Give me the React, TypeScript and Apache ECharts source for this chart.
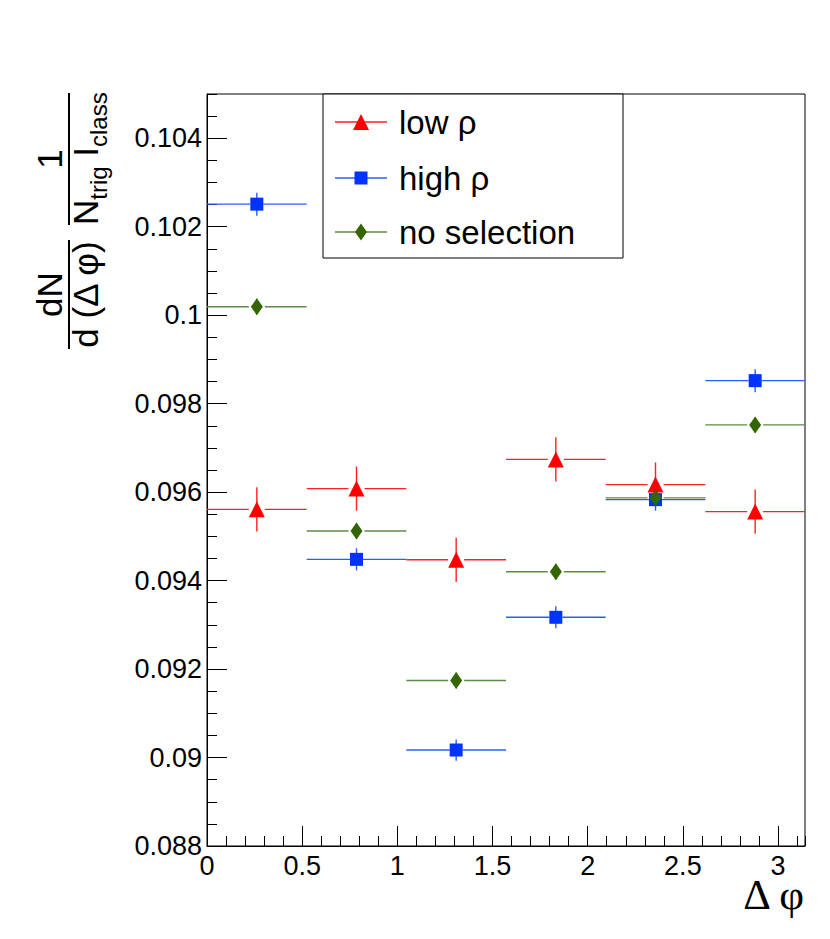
import React, { useEffect, useRef } from "react";
import * as echarts from "echarts";

// ---- data ----
const binCenters = [0.2618, 0.7854, 1.309, 1.8326, 2.3562, 2.8798];
const binHalfWidths = [0.2618, 0.2618, 0.2618, 0.2618, 0.2618, 0.2618];

const lowRho = [0.09561, 0.09608, 0.09447, 0.09674, 0.09617, 0.09556];
const lowRhoErr = [0.0005, 0.0005, 0.0005, 0.0005, 0.0005, 0.0005];

const highRho = [0.10251, 0.09448, 0.09017, 0.09317, 0.09583, 0.09852];
const highRhoErr = [0.00026, 0.00025, 0.00024, 0.00025, 0.00025, 0.00026];

const noSel = [0.10019, 0.09512, 0.09174, 0.0942, 0.09587, 0.09752];
const noSelErr = [0.00018, 0.00018, 0.00018, 0.00018, 0.00018, 0.00018];

const seriesNames = ["low ρ", "high ρ", "no selection"];

// axis ranges / tick steps
const xRange = [0, Math.PI];
const xMajorStep = 0.5;
const xMinorStep = 0.1;
const yRange = [0.088, 0.105];
const yMajorStep = 0.002;
const yMinorStep = 0.0005;

const FONT = "Liberation Sans";
const RED = "#ff0000";
const BLUE = "#0033ff";
const GREEN = "#336600";
const RED_LINE = "#ff2020";
const BLUE_LINE = "#2a5cff";
const GREEN_LINE = "#5e8c44";

const fmt = (v: number) => String(parseFloat(Number(v).toFixed(4)));

function errorSeries(name: string, ys: number[], errs: number[], color: string, gap: number) {
  return {
    type: "custom",
    name,
    xAxisIndex: 0,
    yAxisIndex: 0,
    data: binCenters.map((x, i) => [x, ys[i], binHalfWidths[i], errs[i]]),
    encode: { x: 0, y: 1 },
    renderItem: (params: any, api: any) => {
      const x = api.value(0);
      const y = api.value(1);
      const xe = api.value(2);
      const ye = api.value(3);
      const c = api.coord([x, y]);
      const l = api.coord([x - xe, y]);
      const r = api.coord([x + xe, y]);
      const t = api.coord([x, y + ye]);
      const b = api.coord([x, y - ye]);
      const style = { stroke: color, lineWidth: 1.4 };
      return {
        type: "group",
        children: [
          { type: "line", shape: { x1: l[0], y1: c[1], x2: c[0] - gap, y2: c[1] }, style },
          { type: "line", shape: { x1: c[0] + gap, y1: c[1], x2: r[0], y2: c[1] }, style },
          { type: "line", shape: { x1: c[0], y1: t[1], x2: c[0], y2: b[1] }, style },
        ],
      };
    },
  };
}

function markerSeries(name: string, ys: number[], symbol: string, size: number[], color: string) {
  return {
    type: "scatter",
    name,
    xAxisIndex: 0,
    yAxisIndex: 0,
    data: binCenters.map((x, i) => [x, ys[i]]),
    symbol,
    symbolSize: size,
    itemStyle: { color, opacity: 1 },
    emphasis: { disabled: true },
  };
}

const txt = (text: string, x: number, y: number, size: number, align: string) => ({
  type: "text",
  x,
  y,
  style: {
    text,
    fill: "#000",
    fontSize: size,
    fontFamily: FONT,
    align,
    textAlign: align,
    verticalAlign: "middle",
    textVerticalAlign: "middle",
  },
});

export default function App() {
  const ref = useRef<HTMLDivElement>(null);

  useEffect(() => {
    if (!ref.current) return;
    const chart = echarts.init(ref.current, null, { renderer: "svg" });

    const majorTick = { show: true, inside: true, length: 20, lineStyle: { color: "#000", width: 1 } };
    const minorTick = { show: true, inside: true, length: 10, lineStyle: { color: "#000", width: 1 } };
    const labelStyle = { color: "#000", fontSize: 27, fontFamily: FONT };

    const legendRows = [122, 178, 232];
    const legendLineX = [335, 387];
    const mx = 361;

    const option: any = {
      animation: false,
      backgroundColor: "#fff",
      grid: {
        left: 207,
        right: 25,
        top: 94,
        bottom: 93,
        show: true,
        borderColor: "#000",
        borderWidth: 1,
        backgroundColor: "transparent",
        containLabel: false,
        outerBoundsMode: "none",
      },
      xAxis: [
        {
          type: "value",
          min: xRange[0],
          max: xRange[1],
          interval: xMajorStep,
          position: "bottom",
          axisLine: { show: true, lineStyle: { color: "#000", width: 1 } },
          axisTick: majorTick,
          axisLabel: { ...labelStyle, margin: 6, showMaxLabel: false, showMinLabel: true, formatter: fmt, hideOverlap: false },
          splitLine: { show: false },
        },
        {
          type: "value",
          min: xRange[0],
          max: xRange[1],
          interval: xMinorStep,
          position: "bottom",
          axisLine: { show: false },
          axisTick: minorTick,
          axisLabel: { show: false },
          splitLine: { show: false },
        },
      ],
      yAxis: [
        {
          type: "value",
          min: yRange[0],
          max: yRange[1],
          interval: yMajorStep,
          position: "left",
          axisLine: { show: true, lineStyle: { color: "#000", width: 1 } },
          axisTick: majorTick,
          axisLabel: { ...labelStyle, margin: 5, showMaxLabel: false, showMinLabel: true, formatter: fmt, hideOverlap: false },
          splitLine: { show: false },
        },
        {
          type: "value",
          min: yRange[0],
          max: yRange[1],
          interval: yMinorStep,
          position: "left",
          axisLine: { show: false },
          axisTick: minorTick,
          axisLabel: { show: false },
          splitLine: { show: false },
        },
      ],
      series: [
        errorSeries(seriesNames[0], lowRho, lowRhoErr, RED_LINE, 8),
        markerSeries(seriesNames[0], lowRho, "triangle", [16, 16], RED),
        errorSeries(seriesNames[1], highRho, highRhoErr, BLUE_LINE, 6.5),
        markerSeries(seriesNames[1], highRho, "rect", [13, 13], BLUE),
        errorSeries(seriesNames[2], noSel, noSelErr, GREEN_LINE, 8),
        markerSeries(seriesNames[2], noSel, "diamond", [12, 17], GREEN),
      ],
      graphic: [
        // legend box
        {
          type: "rect",
          shape: { x: 323, y: 94, width: 300, height: 164 },
          style: { fill: "#fff", stroke: "#000", lineWidth: 1 },
          z: 10,
        },
        {
          type: "line",
          shape: { x1: legendLineX[0], y1: legendRows[0], x2: legendLineX[1], y2: legendRows[0] },
          style: { stroke: RED_LINE, lineWidth: 1.4 },
          z: 11,
        },
        {
          type: "polygon",
          shape: { points: [[mx, legendRows[0] - 8], [mx + 8, legendRows[0] + 8], [mx - 8, legendRows[0] + 8]] },
          style: { fill: RED },
          z: 12,
        },
        {
          type: "line",
          shape: { x1: legendLineX[0], y1: legendRows[1], x2: legendLineX[1], y2: legendRows[1] },
          style: { stroke: BLUE_LINE, lineWidth: 1.4 },
          z: 11,
        },
        {
          type: "rect",
          shape: { x: mx - 6.5, y: legendRows[1] - 6.5, width: 13, height: 13 },
          style: { fill: BLUE },
          z: 12,
        },
        {
          type: "line",
          shape: { x1: legendLineX[0], y1: legendRows[2], x2: legendLineX[1], y2: legendRows[2] },
          style: { stroke: GREEN_LINE, lineWidth: 1.4 },
          z: 11,
        },
        {
          type: "polygon",
          shape: {
            points: [
              [mx, legendRows[2] - 8.5],
              [mx + 6, legendRows[2]],
              [mx, legendRows[2] + 8.5],
              [mx - 6, legendRows[2]],
            ],
          },
          style: { fill: GREEN },
          z: 12,
        },
        ...seriesNames.map((n, i) => ({ ...txt(n, 399, legendRows[i], 33, "left"), z: 12 })),
        // x-axis title
        {
          type: "text",
          x: 804,
          y: 894,
          style: {
            text: "Δ φ",
            fill: "#000",
            fontSize: 43,
            fontFamily: "Liberation Serif",
            align: "right",
            textAlign: "right",
            verticalAlign: "middle",
            textVerticalAlign: "middle",
          },
        },
        // y-axis title (rotated fraction)
        {
          type: "group",
          x: 0,
          y: 360,
          rotation: Math.PI / 2,
          children: [
            { type: "line", shape: { x1: 11, y1: 69, x2: 120, y2: 69 }, style: { stroke: "#000", lineWidth: 2 } },
            txt("dN", 65.5, 49.9, 35, "center"),
            txt("d (Δ φ)", 65.5, 85.9, 35, "center"),
            { type: "line", shape: { x1: 135, y1: 69, x2: 267, y2: 69 }, style: { stroke: "#000", lineWidth: 2 } },
            txt("1", 201, 49.9, 35, "center"),
            txt("N", 135, 85.9, 35, "left"),
            txt("trig", 160.3, 98.7, 24, "left"),
            txt("I", 203.3, 85.9, 35, "left"),
            txt("class", 213, 98.7, 24, "left"),
          ],
        },
      ],
    };

    chart.setOption(option);
    return () => {
      chart.dispose();
    };
  }, []);

  return (
    <div
      ref={ref}
      style={{ position: "absolute", left: 0, top: 0, width: 830, height: 939, background: "#fff" }}
    />
  );
}
